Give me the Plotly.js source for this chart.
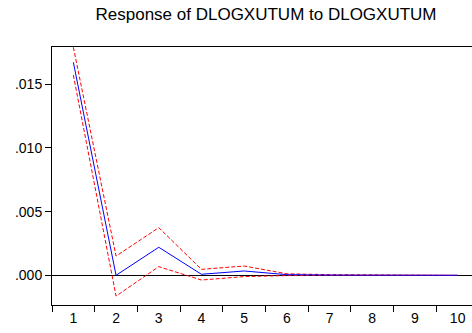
<!DOCTYPE html>
<html><head><meta charset="utf-8">
<script src="https://cdn.plot.ly/plotly-3.0.1.min.js"></script>
<style>html,body{margin:0;padding:0;background:#fff}#c{width:472px;height:333px}</style>
</head><body><div id="c"></div>
<script>
const periods = ['1','2','3','4','5','6','7','8','9','10'];
const response = [0.01672, 0.0000, 0.00220, 0.00008, 0.00034, 0.00005, 0.00002, 0.00001, 0.0, 0.0];
const upper    = [0.01790, 0.00151, 0.00374, 0.00047, 0.00073, 0.00012, 0.00005, 0.00002, 0.00001, 0.0];
const lower    = [0.01572, -0.00163, 0.00068, -0.00037, -0.00010, -0.00002, -0.00001, 0.0, 0.0, 0.0];
const yTickVals = [0, 0.005, 0.010, 0.015];
const yTickText = ['.000', '.005', '.010', '.015'];
const titleText = 'Response of DLOGXUTUM to DLOGXUTUM';

const traces = [
  {x: periods, y: upper, mode: 'lines', line: {color: '#FF0000', width: 1, dash: '4px,2px'}, hoverinfo: 'skip'},
  {x: periods, y: lower, mode: 'lines', line: {color: '#FF0000', width: 1, dash: '4px,2px'}, hoverinfo: 'skip'},
  {x: periods, y: response, mode: 'lines', line: {color: '#0000FF', width: 1}}
];
const layout = {
  width: 472, height: 333,
  margin: {l: 52, r: 0, t: 47, b: 28},
  paper_bgcolor: '#fff', plot_bgcolor: '#fff',
  showlegend: false,
  font: {family: 'Liberation Sans, Arial, sans-serif', size: 14, color: '#000'},
  title: {text: titleText, font: {size: 17, color: '#000'}, x: 0.5636, xanchor: 'center', y: 0.959, yanchor: 'middle'},
  xaxis: {
    type: 'category', range: [-0.5, 9.336], tickson: 'boundaries',
    ticks: 'outside', ticklen: 6, tickcolor: '#000', tickwidth: 1,
    showline: true, linecolor: '#000', linewidth: 1, mirror: true,
    showgrid: false, zeroline: false, fixedrange: true,
    tickfont: {size: 14}
  },
  yaxis: {
    range: [-0.00233, 0.01792], tickvals: yTickVals, ticktext: yTickText,
    ticks: 'outside', ticklen: 6, tickcolor: '#000', tickwidth: 1,
    showline: true, linecolor: '#000', linewidth: 1,
    showgrid: false, zeroline: true, zerolinecolor: '#000', zerolinewidth: 1,
    tickfont: {size: 14}
  }
};
Plotly.newPlot('c', traces, layout, {staticPlot: true});
</script></body></html>
